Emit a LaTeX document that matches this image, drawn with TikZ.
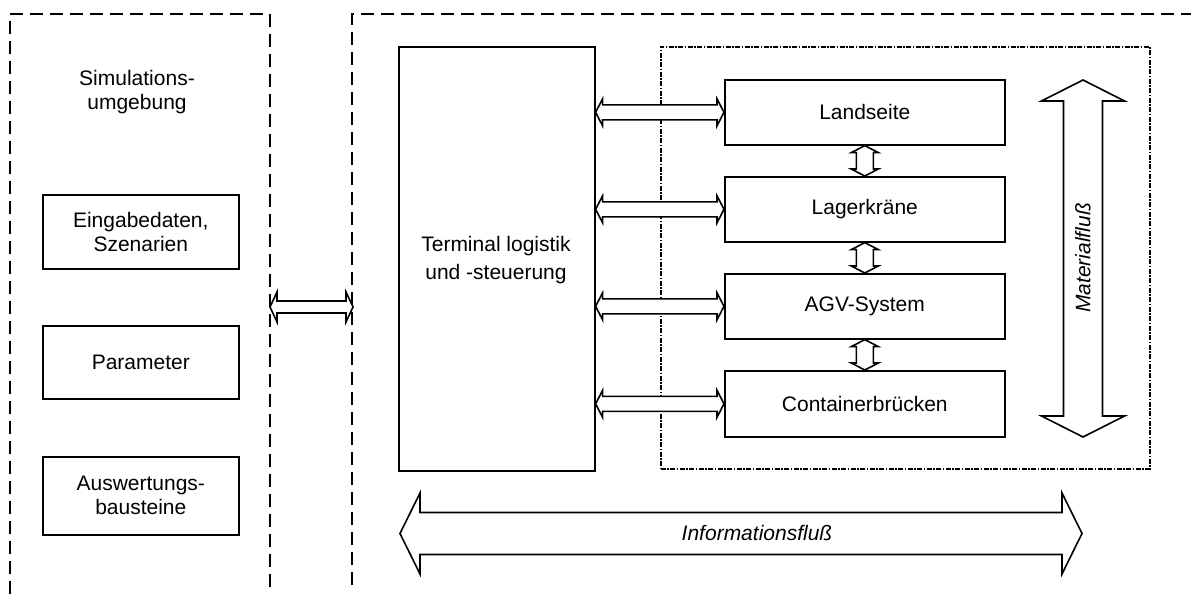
\documentclass[tikz,border=0pt]{standalone}
\usepackage{fontspec}
\setmainfont{Liberation Sans}
\usetikzlibrary{calc}
\newcommand\hdarrow[5]{%
 \draw[arr] let \p1=(#1), \p2=(#2) in
  (\x1,\y1) -- (\x1+#5pt,\y1+#4pt) -- (\x1+#5pt,\y1+#3pt) -- (\x2-#5pt,\y1+#3pt) -- (\x2-#5pt,\y1+#4pt) -- (\x2,\y1)
  -- (\x2-#5pt,\y1-#4pt) -- (\x2-#5pt,\y1-#3pt) -- (\x1+#5pt,\y1-#3pt) -- (\x1+#5pt,\y1-#4pt) -- cycle;}
\newcommand\vdarrow[5]{%
 \draw[arr] let \p1=(#1), \p2=(#2) in
  (\x1,\y1) -- (\x1+#4pt,\y1-#5pt) -- (\x1+#3pt,\y1-#5pt) -- (\x1+#3pt,\y2+#5pt) -- (\x1+#4pt,\y2+#5pt) -- (\x1,\y2)
  -- (\x1-#4pt,\y2+#5pt) -- (\x1-#3pt,\y2+#5pt) -- (\x1-#3pt,\y1-#5pt) -- (\x1-#4pt,\y1-#5pt) -- cycle;}
\begin{document}
\begin{tikzpicture}[x=1pt,y=-1pt,
  lw/.style={line width=1.6pt},
  blk/.style={draw,lw,inner sep=0pt,align=center,font=\fontsize{21}{24}\selectfont,anchor=north west},
  dsh/.style={lw,dash pattern=on 13pt off 7pt},
  dd/.style={draw,line width=1.7pt,dash pattern=on 5pt off 1.5pt on 1.5pt off 1.5pt},
  arr/.style={draw,lw,fill=white,line join=miter},
  lbl/.style={font=\fontsize{21}{24}\selectfont,align=center}]
\useasboundingbox (0,0) rectangle (1191,594);
% dashed frames
\draw[dsh] (10,594) -- (10,14) -- (270,14) -- (270,594);
\draw[dsh] (352,585) -- (352,14) -- (1191,14);
\coordinate (lbr) at (270,307);
\coordinate (rbl) at (353,307);
% left column
\node[lbl] (sim) at (137,92) {Simulations-\\umgebung};
\node[blk,minimum width=196pt,minimum height=74pt] (ein) at (42,194) {Eingabedaten,\\Szenarien};
\node[blk,minimum width=196pt,minimum height=73pt] (par) at (42,325) {Parameter};
\node[blk,minimum width=196pt,minimum height=78pt] (aus) at (42,456) {Auswertungs-\\bausteine};
% terminal
\node[blk,minimum width=196pt,minimum height=424pt] (term) at (398,46) {};
\node[lbl,font=\fontsize{21}{28}\selectfont] (termtxt) at (496,260) {Terminal logistik\\und -steuerung};
% material frame
\node[dd,anchor=north west,minimum width=489pt,minimum height=422pt,inner sep=0pt] (mat) at (660,46) {};
\node[blk,minimum width=280pt,minimum height=65pt] (land) at (724,79) {Landseite};
\node[blk,minimum width=280pt,minimum height=65pt] (lager) at (724,176) {Lagerkräne};
\node[blk,minimum width=280pt,minimum height=65pt] (agv) at (724,273) {AGV-System};
\node[blk,minimum width=280pt,minimum height=66pt] (cont) at (724,370) {Containerbrücken};
% connectors
\hdarrow{lbr}{rbl}{6}{15}{7}
\hdarrow{term.east |- land.west}{land.west}{7.5}{13.5}{7}
\hdarrow{term.east |- lager.west}{lager.west}{7.5}{13.5}{7}
\hdarrow{term.east |- agv.west}{agv.west}{7.5}{13.5}{7}
\hdarrow{term.east |- cont.west}{cont.west}{7.5}{13.5}{7}
\vdarrow{land.south}{lager.north}{8.5}{13.5}{7}
\vdarrow{lager.south}{agv.north}{8.5}{13.5}{7}
\vdarrow{agv.south}{cont.north}{8.5}{13.5}{7}
% material flow
\coordinate (mtop) at (1083,80);
\coordinate (mbot) at (1083,437);
\vdarrow{mtop}{mbot}{19.5}{41.5}{21}
\node[lbl,rotate=90,font=\fontsize{21}{24}\selectfont\itshape] (mtxt) at (1083,258) {Materialfluß};
% information flow
\coordinate (il) at (400,533.5);
\coordinate (ir) at (1082,533.5);
\hdarrow{il}{ir}{21}{40.5}{20}
\node[lbl,font=\fontsize{21}{24}\selectfont\itshape] (itxt) at (757,533) {Informationsfluß};
\end{tikzpicture}
\end{document}
